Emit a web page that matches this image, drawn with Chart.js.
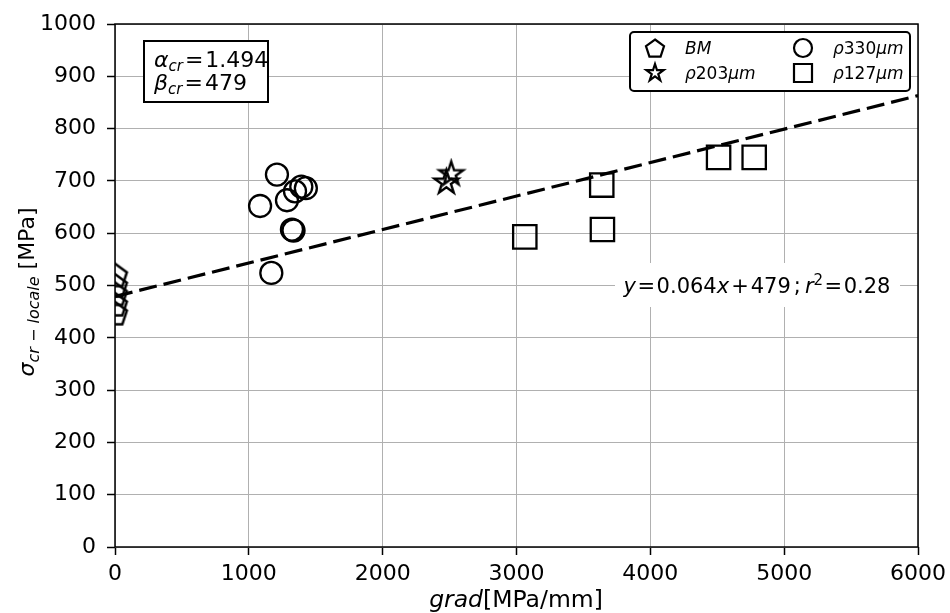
<!DOCTYPE html>
<html>
<head>
<meta charset="utf-8">
<script src="https://cdn.jsdelivr.net/npm/chart.js@4.4.0/dist/chart.umd.min.js"></script>
<style>
  html, body { margin: 0; padding: 0; background: #fff; }
  #wrap { width: 950px; height: 613px; }
</style>
</head>
<body>
<div id="wrap"><canvas id="chart" width="950" height="613"></canvas></div>
<script>
// ==================== DATA ====================
const bmX = [0, 0, 0, 0, 0];
const bmY = [518, 498, 482, 462, 445];
const r330X = [1084, 1168, 1210, 1285, 1322, 1334, 1345, 1392, 1426];
const r330Y = [652, 524, 712, 663, 607, 605, 680, 689, 686];
const r203X = [2476, 2512];
const r203Y = [697, 713];
const r127X = [3062, 3637, 3642, 4510, 4776];
const r127Y = [593, 692, 607, 745, 745];
const fitX = [0, 6000];
const fitY = [479, 863];
const xTicks = [0, 1000, 2000, 3000, 4000, 5000, 6000];
const yTicks = [0, 100, 200, 300, 400, 500, 600, 700, 800, 900, 1000];

const FONT = 'DejaVu Sans';
const pts = (xs, ys) => xs.map((x, i) => ({ x, y: ys[i] }));

// ==================== MARKERS ====================
function pathPentagon(ctx, x, y, r) {
  ctx.beginPath();
  for (let i = 0; i < 5; i++) {
    const a = -Math.PI / 2 + i * 2 * Math.PI / 5;
    ctx.lineTo(x + r * Math.cos(a), y + r * Math.sin(a));
  }
  ctx.closePath();
}
function pathStar(ctx, x, y, r) {
  const ri = r * 0.382;
  ctx.beginPath();
  for (let i = 0; i < 10; i++) {
    const a = -Math.PI / 2 + i * Math.PI / 5;
    const rr = i % 2 ? ri : r;
    ctx.lineTo(x + rr * Math.cos(a), y + rr * Math.sin(a));
  }
  ctx.closePath();
}
function drawMarker(ctx, type, x, y, r, lw) {
  ctx.save();
  ctx.strokeStyle = '#000';
  ctx.lineWidth = lw;
  ctx.lineJoin = 'miter';
  if (type === 'pentagon') pathPentagon(ctx, x, y, r);
  else if (type === 'star') pathStar(ctx, x, y, r);
  else if (type === 'circle') { ctx.beginPath(); ctx.arc(x, y, r, 0, Math.PI * 2); }
  else { ctx.beginPath(); ctx.rect(x - r, y - r, 2 * r, 2 * r); }
  ctx.stroke();
  ctx.restore();
}
function markerCanvas(type, r, lw) {
  const c = document.createElement('canvas');
  const s = Math.ceil(2 * r + lw * 3);
  c.width = s; c.height = s;
  drawMarker(c.getContext('2d'), type, s / 2, s / 2, r, lw);
  return c;
}
const pentImg = markerCanvas('pentagon', 12.5, 2.5);
const starImg = markerCanvas('star', 12.5, 2.4);

// ==================== TEXT HELPERS ====================
// part: [text, size, italic, dy, gapAfter]
function fnt(p) { return (p[2] ? 'italic ' : '') + p[1] + 'px "' + FONT + '"'; }
function drawRich(ctx, parts, x, y, align) {
  let w = 0;
  parts.forEach((p) => { ctx.font = fnt(p); w += ctx.measureText(p[0]).width + (p[4] || 0); });
  let cx = align === 'center' ? x - w / 2 : x;
  ctx.textAlign = 'left';
  ctx.textBaseline = 'alphabetic';
  ctx.fillStyle = '#000';
  parts.forEach((p) => {
    ctx.font = fnt(p);
    ctx.fillText(p[0], cx, y + (p[3] || 0));
    cx += ctx.measureText(p[0]).width + (p[4] || 0);
  });
}

// ==================== DECORATIONS ====================
const decorations = {
  id: 'decorations',
  afterDatasetsDraw(chart) {
    const ctx = chart.ctx;
    const a = chart.chartArea;
    ctx.save();
    // frame
    ctx.strokeStyle = '#000';
    ctx.lineWidth = 1.5;
    ctx.strokeRect(a.left, a.top, a.right - a.left, a.bottom - a.top);

    // parameter box
    ctx.fillStyle = '#fff';
    ctx.fillRect(144, 41, 124, 61);
    ctx.lineWidth = 2;
    ctx.strokeRect(144, 41, 124, 61);
    drawRich(ctx, [['α', 22, true], ['cr', 15, true, 4, 2], ['=', 22, false, 0, 2], ['1.494', 22, false]], 154, 67);
    drawRich(ctx, [['β', 22, true], ['cr', 15, true, 4, 2], ['=', 22, false, 0, 2], ['479', 22, false]], 154, 90);

    // fit annotation
    ctx.fillStyle = '#fff';
    ctx.fillRect(615, 263, 285, 44);
    drawRich(ctx, [
      ['y', 21, true, 0, 1.5], ['=', 21, false, 0, 1.5], ['0.064', 21, false], ['x', 21, true, 0, 2],
      ['+', 21, false, 0, 2], ['479', 21, false, 0, 3], [';', 21, false, 0, 4],
      ['r', 21, true], ['2', 15, false, -8, 1.5], ['=', 21, false, 0, 1.5], ['0.28', 21, false],
    ], 757, 293, 'center');

    // legend
    ctx.fillStyle = '#fff';
    ctx.beginPath();
    ctx.roundRect(630, 32, 280, 59, 4);
    ctx.fill();
    ctx.lineWidth = 2;
    ctx.strokeStyle = '#000';
    ctx.stroke();
    drawMarker(ctx, 'pentagon', 655, 49, 9.5, 2.2);
    drawMarker(ctx, 'star', 655, 73, 9, 2.2);
    drawMarker(ctx, 'circle', 803, 48, 9, 2.2);
    drawMarker(ctx, 'rect', 803, 73, 9, 2.2);
    drawRich(ctx, [['BM', 17, true]], 685, 54);
    drawRich(ctx, [['ρ', 17, true], ['203', 17, false], ['μm', 17, true]], 685, 79);
    drawRich(ctx, [['ρ', 17, true], ['330', 17, false], ['μm', 17, true]], 833, 54);
    drawRich(ctx, [['ρ', 17, true], ['127', 17, false], ['μm', 17, true]], 833, 79);

    // axis titles
    drawRich(ctx, [['grad', 23.5, true], ['[MPa/mm]', 23.5, false]], 516, 607, 'center');
    ctx.translate(34, 292);
    ctx.rotate(-Math.PI / 2);
    drawRich(ctx, [['σ', 22, true], ['cr − locale', 16, true, 5], [' [MPa]', 22, false]], 0, 0, 'center');
    ctx.restore();
  },
};

// ==================== CHART ====================
const common = {
  borderColor: '#000',
  backgroundColor: 'rgba(0,0,0,0)',
  borderWidth: 2.3,
  showLine: false,
  clip: 0,
  order: 1,
};
const tickFont = { family: FONT, size: 22 };
const gridOpts = { color: '#b0b0b0', lineWidth: 1, tickColor: '#000', tickLength: 8, tickWidth: 1.5 };

new Chart(document.getElementById('chart'), {
  type: 'scatter',
  data: {
    datasets: [
      {
        label: 'fit',
        data: pts(fitX, fitY),
        showLine: true,
        borderColor: '#000',
        borderWidth: 3.2,
        borderDash: [18, 7],
        pointRadius: 0,
        clip: 0,
        order: 0,
      },
      { ...common, label: 'BM', data: pts(bmX, bmY), pointStyle: pentImg, pointRadius: 12 },
      { ...common, label: 'ρ203μm', data: pts(r203X, r203Y), pointStyle: starImg, pointRadius: 12 },
      { ...common, label: 'ρ330μm', data: pts(r330X, r330Y), pointStyle: 'circle', pointRadius: 11 },
      { ...common, label: 'ρ127μm', data: pts(r127X, r127Y), pointStyle: 'rect', pointRadius: 16.5 },
    ],
  },
  options: {
    responsive: false,
    animation: false,
    devicePixelRatio: 1,
    layout: { padding: { left: 0, right: 32, top: 24, bottom: 0 } },
    plugins: { legend: { display: false }, tooltip: { enabled: false } },
    scales: {
      x: {
        type: 'linear',
        min: 0,
        max: 6000,
        afterBuildTicks: (s) => { s.ticks = xTicks.map((v) => ({ value: v })); },
        afterFit: (s) => { s.height = 66; s.paddingLeft = 0; s.paddingRight = 0; },
        ticks: { color: '#000', font: tickFont, padding: 6, maxRotation: 0, callback: (v) => String(v) },
        grid: gridOpts,
        border: { display: false },
      },
      y: {
        type: 'linear',
        min: 0,
        max: 1000,
        afterBuildTicks: (s) => { s.ticks = yTicks.map((v) => ({ value: v })); },
        afterFit: (s) => { s.width = 115; s.paddingTop = 0; s.paddingBottom = 0; },
        ticks: { color: '#000', font: tickFont, padding: 11, callback: (v) => String(v) },
        grid: gridOpts,
        border: { display: false },
      },
    },
  },
  plugins: [decorations],
});
</script>
</body>
</html>
